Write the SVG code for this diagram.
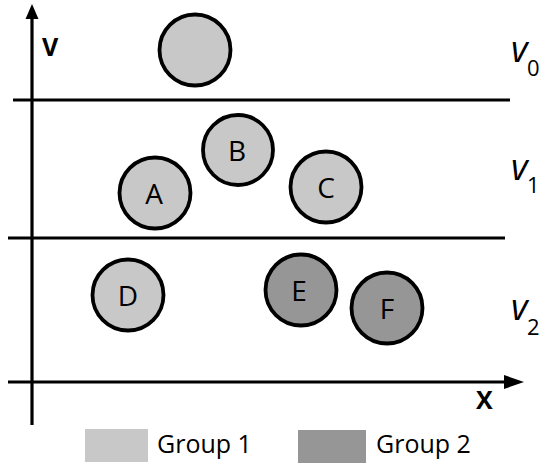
<svg xmlns="http://www.w3.org/2000/svg" width="542" height="465" viewBox="0 0 542 465">
  <style>
    .ax { stroke: #000; stroke-width: 3.2; fill: none; }
    .g1 { fill: #c8c8c8; stroke: #000; stroke-width: 3.8; }
    .g2 { fill: #969696; stroke: #000; stroke-width: 3.8; }
    .lbl { font-family: "Open Sans", "Liberation Sans", sans-serif; font-size: 28px; fill: #000; text-anchor: middle; }
    .axl { font-family: "Open Sans", "Liberation Sans", sans-serif; font-size: 25px; font-weight: bold; fill: #000; }
    .lev { font-family: "Open Sans", "Liberation Sans", sans-serif; font-size: 36px; font-style: italic; fill: #000; }
    .sub { font-family: "Open Sans", "Liberation Sans", sans-serif; font-size: 22px; fill: #000; }
    .leg { font-family: "Open Sans", "Liberation Sans", sans-serif; font-size: 25px; fill: #000; }
  </style>
  <rect width="542" height="465" fill="#fff"/>

  <!-- axes and level boundaries -->
  <g id="connectors">
    <line class="ax" x1="32" y1="16" x2="32" y2="425"/>
    <polygon points="32,4 25.5,19 38.5,19" fill="#000"/>
    <line class="ax" x1="8" y1="382" x2="506" y2="382"/>
    <polygon points="524,382 504,375 504,389" fill="#000"/>
    <line class="ax" x1="13" y1="100" x2="510" y2="100"/>
    <line class="ax" x1="8" y1="238" x2="505" y2="238"/>
  </g>

  <!-- axis labels -->
  <text class="axl" x="42" y="56">V</text>
  <text class="axl" x="476" y="409">X</text>

  <!-- level labels -->
  <g id="v0"><text class="lev" x="511" y="62">v</text><text class="sub" x="527" y="76">0</text></g>
  <g id="v1"><text class="lev" x="511" y="180">v</text><text class="sub" x="527" y="193">1</text></g>
  <g id="v2"><text class="lev" x="511" y="320">v</text><text class="sub" x="527" y="335">2</text></g>

  <!-- particles -->
  <g id="top"><circle class="g1" cx="195" cy="50" r="35.5"/></g>
  <g id="A"><circle class="g1" cx="155" cy="193" r="35.5"/><text class="lbl" x="154" y="204">A</text></g>
  <g id="B"><circle class="g1" cx="238" cy="150" r="35"/><text class="lbl" x="237" y="161">B</text></g>
  <g id="C"><circle class="g1" cx="326" cy="187" r="35.5"/><text class="lbl" x="326" y="198">C</text></g>
  <g id="D"><circle class="g1" cx="128" cy="295" r="35.5"/><text class="lbl" x="128" y="306">D</text></g>
  <g id="E"><circle class="g2" cx="301" cy="290" r="35.5"/><text class="lbl" x="299" y="301">E</text></g>
  <g id="F"><circle class="g2" cx="387" cy="308" r="35.5"/><text class="lbl" x="387" y="319">F</text></g>

  <!-- legend -->
  <g id="legend">
    <rect x="85" y="429" width="63" height="33" fill="#c8c8c8"/>
    <text class="leg" x="157" y="453">Group 1</text>
    <rect x="298" y="430" width="68" height="33" fill="#969696"/>
    <text class="leg" x="376" y="453">Group 2</text>
  </g>
</svg>
